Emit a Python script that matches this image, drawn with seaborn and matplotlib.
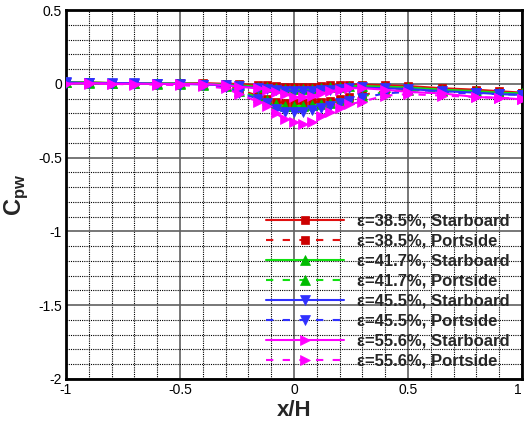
import numpy as np
import pandas as pd
import matplotlib
matplotlib.use("Agg")
import matplotlib.pyplot as plt
from matplotlib.ticker import MultipleLocator
import seaborn as sns

# Wall pressure coefficient along the channel for four blockage ratios
x_h = [-1.0, -0.9, -0.8, -0.7, -0.6, -0.5, -0.4, -0.3, -0.24, -0.16, -0.12,
       -0.08, -0.04, 0.0, 0.04, 0.08, 0.12, 0.16, 0.2, 0.24, 0.3, 0.4, 0.5,
       0.65, 0.8, 0.9, 1.0]

cp_385_sb = [0.01, 0.01, 0.005, 0.005, 0.005, 0.005, 0.005, 0.0, 0.0, -0.01,
             -0.01, -0.015, -0.02, -0.02, -0.02, -0.02, -0.015, -0.01, -0.005,
             -0.005, -0.005, -0.01, -0.015, -0.03, -0.04, -0.05, -0.06]
cp_385_ps = [0.01, 0.005, 0.005, 0.005, 0.005, 0.005, 0.0, -0.01, -0.04, -0.08,
             -0.1, -0.12, -0.13, -0.13, -0.13, -0.125, -0.12, -0.115, -0.105,
             -0.09, -0.075, -0.05, -0.04, -0.045, -0.05, -0.06, -0.065]
cp_417_sb = [0.01, 0.01, 0.005, 0.005, 0.005, 0.005, 0.0, -0.005, -0.01, -0.02,
             -0.025, -0.03, -0.035, -0.035, -0.035, -0.035, -0.03, -0.025, -0.02,
             -0.015, -0.015, -0.02, -0.025, -0.04, -0.05, -0.06, -0.065]
cp_417_ps = [0.01, 0.005, 0.005, 0.005, 0.0, 0.0, -0.005, -0.015, -0.05, -0.09,
             -0.11, -0.14, -0.15, -0.15, -0.15, -0.145, -0.14, -0.13, -0.12,
             -0.105, -0.085, -0.055, -0.045, -0.05, -0.055, -0.065, -0.07]
cp_455_sb = [0.01, 0.005, 0.005, 0.005, 0.0, 0.0, -0.005, -0.01, -0.015, -0.03,
             -0.035, -0.045, -0.05, -0.05, -0.05, -0.05, -0.045, -0.04, -0.035,
             -0.03, -0.025, -0.03, -0.035, -0.05, -0.06, -0.07, -0.075]
cp_455_ps = [0.005, 0.005, 0.0, 0.0, 0.0, -0.005, -0.01, -0.02, -0.06, -0.1,
             -0.13, -0.17, -0.19, -0.19, -0.19, -0.18, -0.165, -0.15, -0.13,
             -0.115, -0.095, -0.065, -0.055, -0.06, -0.065, -0.07, -0.075]
cp_556_sb = [0.0, 0.005, 0.0, 0.0, 0.0, 0.0, 0.0, -0.01, -0.02, -0.03, -0.04,
             -0.055, -0.07, -0.09, -0.09, -0.08, -0.065, -0.05, -0.04, -0.03,
             -0.03, -0.04, -0.055, -0.065, -0.09, -0.095, -0.105]
cp_556_ps = [0.0, 0.0, 0.0, -0.005, -0.005, -0.01, -0.015, -0.03, -0.07, -0.12,
             -0.15, -0.2, -0.24, -0.26, -0.27, -0.26, -0.22, -0.19, -0.165,
             -0.14, -0.12, -0.08, -0.07, -0.08, -0.09, -0.095, -0.1]

labels = ["\u03b5=38.5%, Starboard", "\u03b5=38.5%, Portside",
          "\u03b5=41.7%, Starboard", "\u03b5=41.7%, Portside",
          "\u03b5=45.5%, Starboard", "\u03b5=45.5%, Portside",
          "\u03b5=55.6%, Starboard", "\u03b5=55.6%, Portside"]

series = [cp_385_sb, cp_385_ps, cp_417_sb, cp_417_ps,
          cp_455_sb, cp_455_ps, cp_556_sb, cp_556_ps]

line_colors = ["#e01010", "#e01010", "#10e010", "#10e010",
               "#3030ff", "#3030ff", "#ff00ff", "#ff00ff"]
marker_colors = ["#cc0000", "#cc0000", "#00bb00", "#00bb00",
                 "#3030ff", "#3030ff", "#ff00ff", "#ff00ff"]
markers = ["s", "s", "^", "^", "v", "v", ">", ">"]
msizes = [6, 6, 7, 7, 7, 7, 7.5, 7.5]
dashed = (0, (3.5, 4.5))
styles = ["-", dashed, "-", dashed, "-", dashed, "-", dashed]

sns.set_style("white")
plt.rcParams["font.family"] = ["Liberation Sans", "DejaVu Sans"]
plt.rcParams["mathtext.fontset"] = "custom"
plt.rcParams["mathtext.bf"] = "Liberation Sans:bold"
plt.rcParams["mathtext.rm"] = "Liberation Sans"

fig = plt.figure(figsize=(5.25, 4.22), dpi=100)
ax = fig.add_axes([66 / 525, 1 - 379 / 422, 456 / 525, 369 / 422])

for vals, lab, lc, mc, mk, ms, ls in zip(series, labels, line_colors,
                                          marker_colors, markers, msizes, styles):
    df = pd.DataFrame({"x": x_h, "cp": vals})
    sns.lineplot(data=df, x="x", y="cp", ax=ax, sort=False, estimator=None,
                 color=lc, linestyle=ls, linewidth=1.5, marker=mk,
                 markersize=ms, markerfacecolor=mc, markeredgecolor=mc,
                 markeredgewidth=0.5, label=lab, zorder=3)

ax.set_xlim(-1, 1)
ax.set_ylim(-2, 0.5)
ax.xaxis.set_minor_locator(MultipleLocator(0.1))
ax.yaxis.set_minor_locator(MultipleLocator(0.1))
ax.set_xticks([-1, -0.5, 0, 0.5, 1])
ax.set_xticklabels(["-1", "-0.5", "0", "0.5", "1"])
ax.set_yticks([-2, -1.5, -1, -0.5, 0, 0.5])
ax.set_yticklabels(["-2", "-1.5", "-1", "-0.5", "0", "0.5"])
# keep the right-most x label inside the canvas
ax.get_xticklabels()[-1].set_horizontalalignment("right")

ax.grid(which="minor", color="black", linestyle=(0, (1, 1)), linewidth=0.8,
        zorder=1)
ax.grid(which="major", color="#606060", linestyle="-", linewidth=1.2, zorder=1)
ax.set_axisbelow(True)

ax.tick_params(axis="both", which="major", direction="in", length=5, width=1.5,
               labelsize=10, pad=3, colors="black")
ax.tick_params(axis="both", which="minor", direction="in", length=3, width=1)
for sp in ax.spines.values():
    sp.set_linewidth(2)
    sp.set_color("black")

ax.set_xlabel("x/H", fontsize=16, fontweight="bold", labelpad=2)
ax.set_ylabel(r"$\mathbf{C}_{\mathbf{pw}}$", fontsize=17, labelpad=6)

leg = ax.legend(loc="upper left", bbox_to_anchor=(266 / 525, 1 - 214 / 422),
                bbox_transform=fig.transFigure, frameon=False,
                prop={"weight": "bold", "size": 12}, handlelength=4.7,
                handletextpad=0.75, labelspacing=0.3, borderpad=0,
                borderaxespad=0)

fig.savefig("out.png", dpi=100)
